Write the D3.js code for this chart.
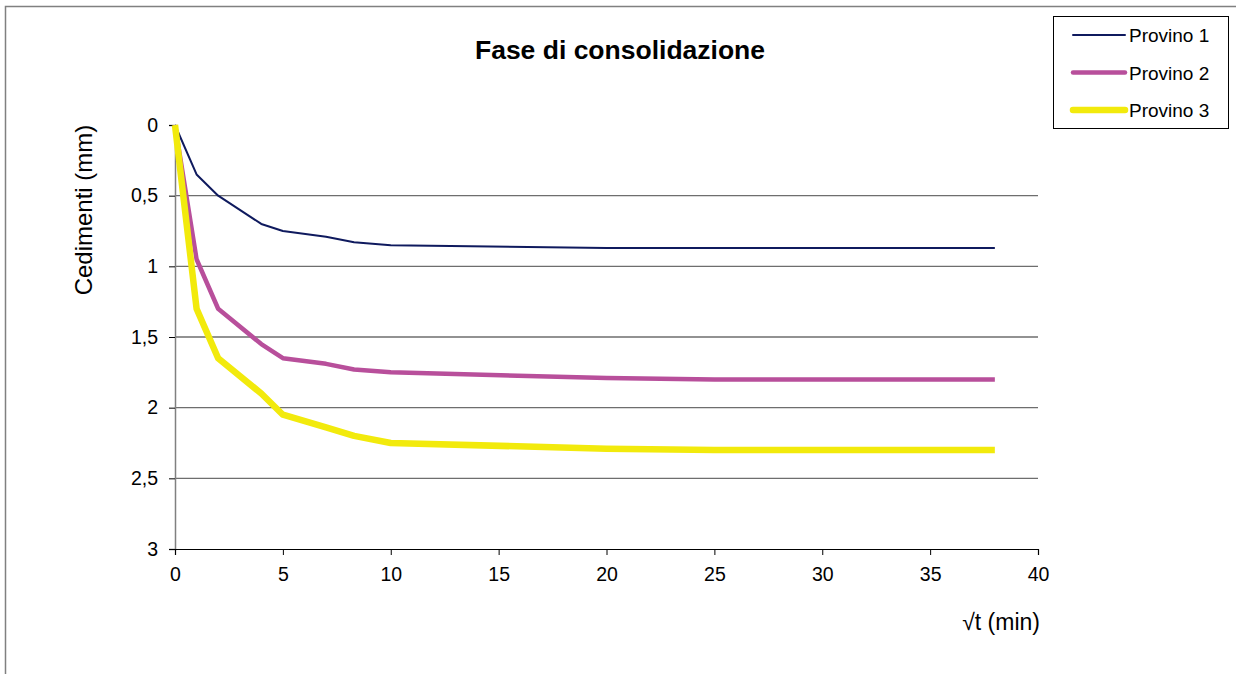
<!DOCTYPE html>
<html>
<head>
<meta charset="utf-8">
<script src="https://cdn.jsdelivr.net/npm/d3@7"></script>
<style>
  body { margin: 0; background: #fff; }
  text { font-family: "Liberation Sans", Arial, sans-serif; fill: #000; }
</style>
</head>
<body>
<svg id="chart" width="1236" height="674"></svg>
<script>
   // values (x = sqrt of time in minutes, y = settlement mm)
   var seriesNames = ["Provino 1", "Provino 2", "Provino 3"];
   var sqrtT = [0, 1, 2, 4, 5, 7, 8.3, 10, 20, 25, 38];
   var provino1 = [0, 0.35, 0.5, 0.7, 0.75, 0.79, 0.83, 0.85, 0.87, 0.87, 0.87];
   var provino2 = [0, 0.95, 1.3, 1.55, 1.65, 1.69, 1.73, 1.75, 1.79, 1.8, 1.8];
   var provino3 = [0, 1.3, 1.65, 1.9, 2.05, 2.14, 2.2, 2.25, 2.29, 2.3, 2.3];
   var xTicks = [0, 5, 10, 15, 20, 25, 30, 35, 40];
   var yTicks = [0, 0.5, 1, 1.5, 2, 2.5, 3];

   var colors = ["#0f1a5e", "#b84f9b", "#f2ea0c"];
   var widths = [2, 4.5, 6.5];

   var svg = d3.select("#chart");

   // outer chart border (runs off the right and bottom edges)
   svg.append("rect")
      .attr("x", 5.5).attr("y", 6.5)
      .attr("width", 1400).attr("height", 900)
      .attr("fill", "none")
      .attr("stroke", "#808080")
      .attr("stroke-width", 1.5);

   var x = d3.scaleLinear().domain([0, 40]).range([175, 1038]);
   var y = d3.scaleLinear().domain([0, 3]).range([125, 549]);

   // gridlines
   svg.append("g")
      .selectAll("line")
      .data(yTicks.filter(function(d) { return d > 0 && d < 3; }))
      .enter()
      .append("line")
      .attr("x1", x(0)).attr("x2", x(40))
      .attr("y1", function(d) { return y(d); })
      .attr("y2", function(d) { return y(d); })
      .attr("stroke", "#6e6e6e")
      .attr("stroke-width", 1.3);

   var fmt = function(d) { return String(d).replace(".", ","); };

   var yAxis = svg.append("g")
      .attr("transform", "translate(" + x(0) + ",0)")
      .call(d3.axisLeft(y).tickValues(yTicks).tickFormat(fmt).tickSize(6).tickPadding(11));
   yAxis.select(".domain").attr("stroke", "#808080").attr("stroke-width", 1.5);
   yAxis.selectAll(".tick line").attr("stroke", "#000");
   yAxis.selectAll(".tick text")
      .style("font-family", "'Liberation Sans', Arial, sans-serif")
      .style("font-size", "19.5px");

   var xAxis = svg.append("g")
      .attr("transform", "translate(0," + y(3) + ")")
      .call(d3.axisBottom(x).tickValues(xTicks).tickSize(6).tickPadding(12));
   xAxis.select(".domain").attr("stroke", "#000").attr("stroke-width", 1.2);
   xAxis.selectAll(".tick line").attr("stroke", "#000");
   xAxis.selectAll(".tick text")
      .style("font-family", "'Liberation Sans', Arial, sans-serif")
      .style("font-size", "19.5px");

   // series
   var allSeries = [provino1, provino2, provino3];
   var line = d3.line()
      .x(function(d, i) { return x(sqrtT[i]); })
      .y(function(d) { return y(d); });

   svg.append("g")
      .selectAll("path")
      .data(allSeries)
      .enter()
      .append("path")
      .attr("d", function(d) { return line(d); })
      .attr("fill", "none")
      .attr("stroke", function(d, i) { return colors[i]; })
      .attr("stroke-width", function(d, i) { return widths[i]; })
      .attr("stroke-linejoin", "round");

   // title and axis titles
   svg.append("text")
      .attr("x", 620).attr("y", 59)
      .attr("text-anchor", "middle")
      .style("font-size", "26.5px")
      .style("font-weight", "bold")
      .text("Fase di consolidazione");

   svg.append("text")
      .attr("transform", "translate(92,210) rotate(-90)")
      .attr("text-anchor", "middle")
      .style("font-size", "24px")
      .text("Cedimenti (mm)");

   svg.append("text")
      .attr("x", 1040).attr("y", 630)
      .attr("text-anchor", "end")
      .style("font-size", "23px")
      .text("√t (min)");

   // legend
   var legend = svg.append("g");
   legend.append("rect")
      .attr("x", 1053.5).attr("y", 16.5)
      .attr("width", 175).attr("height", 112)
      .attr("fill", "#fff")
      .attr("stroke", "#000")
      .attr("stroke-width", 1);

   var items = legend.selectAll("g.item")
      .data(seriesNames)
      .enter()
      .append("g")
      .attr("class", "item")
      .attr("transform", function(d, i) { return "translate(0," + (35 + i * 37.5) + ")"; });
   items.append("line")
      .attr("x1", 1073).attr("x2", 1125)
      .attr("stroke", function(d, i) { return colors[i]; })
      .attr("stroke-width", function(d, i) { return widths[i]; })
      .attr("stroke-linecap", "round");
   items.append("text")
      .attr("x", 1129).attr("y", 7)
      .style("font-size", "19px")
      .text(function(d) { return d; });
</script>
</body>
</html>
